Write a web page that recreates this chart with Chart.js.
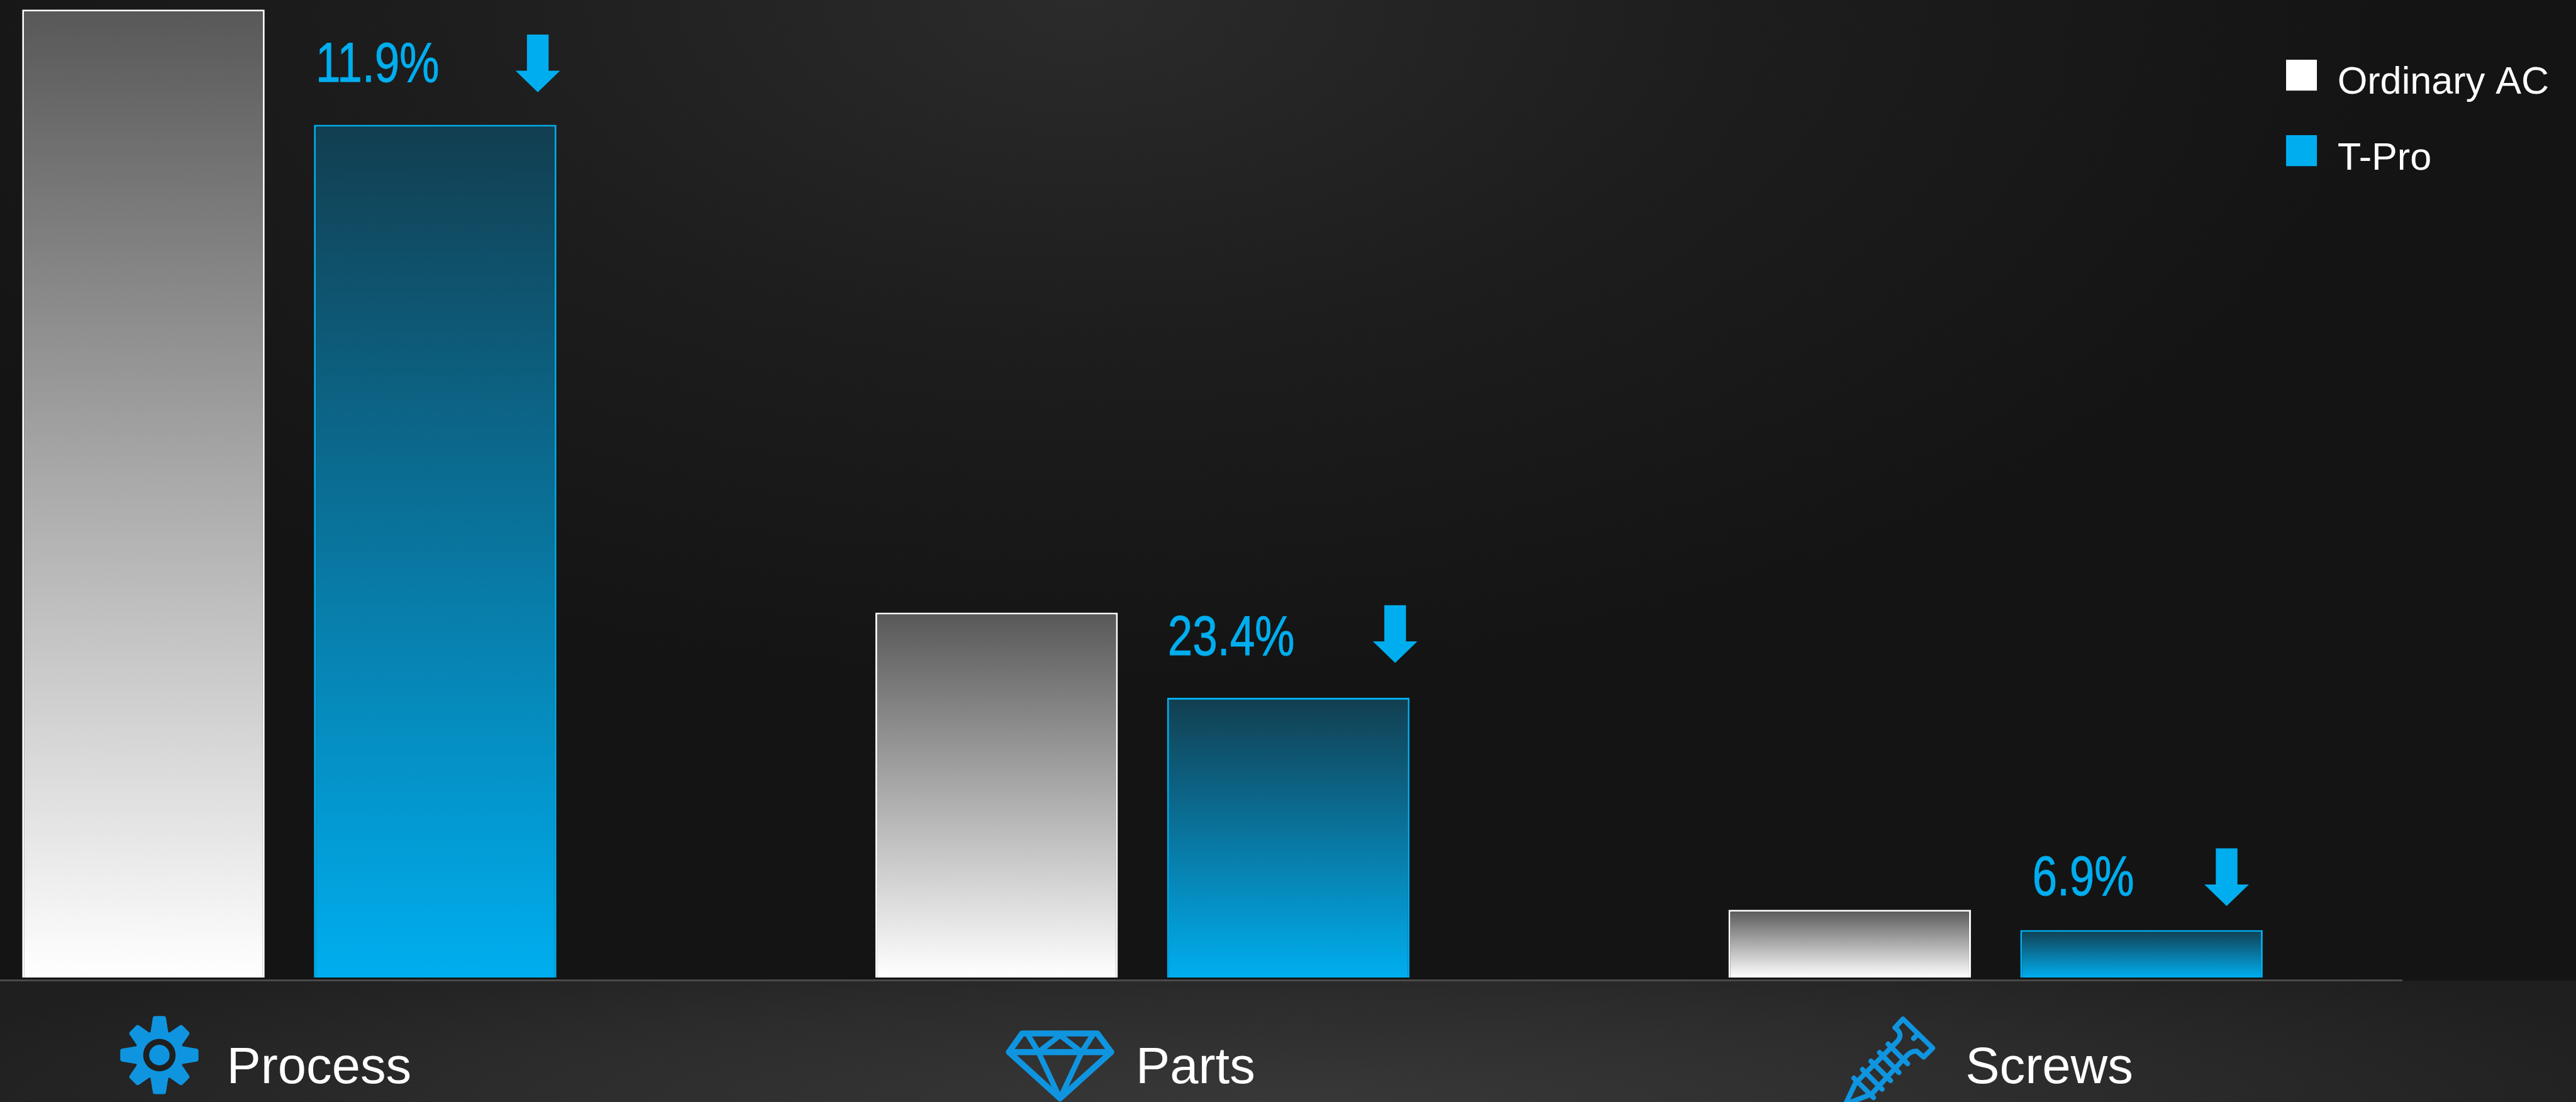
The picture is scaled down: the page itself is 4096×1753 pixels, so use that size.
<!DOCTYPE html>
<html>
<head>
<meta charset="utf-8">
<title>Ordinary AC vs T-Pro</title>
<script src="https://cdn.jsdelivr.net/npm/chart.js@4"></script>
<style>
html, body { margin: 0; padding: 0; width: 4096px; height: 1753px; overflow: hidden; background: #141414; }
#top { position: absolute; left: 0; top: 0; width: 4096px; height: 1560px;
    background: radial-gradient(ellipse 2100px 1100px at 42% 0, #2b2b2b 0%, #1d1d1d 50%, #141414 100%); }
#band { position: absolute; left: 0; top: 1560px; width: 4096px; height: 193px;
    background: radial-gradient(ellipse 2300px 300px at 50% 100%, #383838 0%, #2c2c2c 55%, #1f1f1f 100%); }
#wrap { position: absolute; left: 0; top: 0; width: 4096px; height: 1753px; }
canvas { display: block; }
</style>
</head>
<body>
<div id="top"></div>
<div id="band"></div>
<div id="wrap"><canvas id="chart" width="4096" height="1753"></canvas></div>
<script>
var categories = ['Process', 'Parts', 'Screws'];
var ordinaryAC = [100, 37.7, 7.0];
var tPro = [88.1, 28.9, 4.9];
var reductions = ['11.9%', '23.4%', '6.9%'];

// everything below was measured on the 4283 wide original
var k = 4096 / 4283;
var BLUE = '#00aeef';
var ICON = '#0f95e0';
var FONT = '"Liberation Sans", Arial, sans-serif';

function barGradient(context, topColor, bottomColor) {
    var chart = context.chart;
    if (context.dataIndex === undefined || !chart.scales.y) {
        return bottomColor;
    }
    var y = chart.scales.y;
    var g = chart.ctx.createLinearGradient(0, y.getPixelForValue(context.raw.y), 0, y.getPixelForValue(0));
    g.addColorStop(0, topColor);
    g.addColorStop(1, bottomColor);
    return g;
}

function toPoints(values) {
    return values.map(function(v, i) {
        return { x: i, y: v };
    });
}

// legend text sits lower than its square in the original, so the square is
// painted in the upper part of a taller transparent swatch
function legendSwatch(color) {
    var c = document.createElement('canvas');
    c.width = 49;
    c.height = 75;
    var g = c.getContext('2d');
    g.fillStyle = color;
    g.fillRect(0, 0, 49, 49);
    return c;
}

function drawGear(ctx, cx, cy) {
    ctx.save();
    ctx.translate(cx, cy);
    ctx.fillStyle = ICON;
    ctx.strokeStyle = ICON;
    ctx.lineJoin = 'round';
    ctx.lineWidth = 8;
    for (var i = 0; i < 8; i++) {
        ctx.save();
        ctx.rotate(i * Math.PI / 4);
        ctx.beginPath();
        ctx.moveTo(-11, -36);
        ctx.lineTo(-7, -(i % 2 ? 58 : 61));
        ctx.lineTo(7, -(i % 2 ? 58 : 61));
        ctx.lineTo(11, -36);
        ctx.closePath();
        ctx.fill();
        ctx.stroke();
        ctx.restore();
    }
    ctx.beginPath();
    ctx.arc(0, 0, 41, 0, Math.PI * 2);
    ctx.fill();
    ctx.fillStyle = '#1f1f1f';
    ctx.beginPath();
    ctx.arc(0, 0, 27, 0, Math.PI * 2);
    ctx.fill();
    ctx.fillStyle = ICON;
    ctx.beginPath();
    ctx.arc(0, 0, 17, 0, Math.PI * 2);
    ctx.fill();
    ctx.restore();
}

function polyline(ctx, pts, closed) {
    ctx.beginPath();
    ctx.moveTo(pts[0][0], pts[0][1]);
    for (var i = 1; i < pts.length; i++) {
        ctx.lineTo(pts[i][0], pts[i][1]);
    }
    if (closed) {
        ctx.closePath();
    }
    ctx.stroke();
}

function drawDiamond(ctx, cx, cy) {
    ctx.save();
    ctx.translate(cx, cy);
    ctx.strokeStyle = ICON;
    ctx.lineWidth = 10;
    ctx.lineJoin = 'round';
    polyline(ctx, [[-63, -43], [62, -43], [85, -12], [0, 65], [-85, -12]], true);
    polyline(ctx, [[-85, -12], [85, -12]]);
    ctx.lineWidth = 9;
    polyline(ctx, [[-53, -40], [-36, -12], [0, -40], [36, -12], [54, -40]]);
    polyline(ctx, [[-36, -12], [0, 65], [36, -12]]);
    ctx.restore();
}

function drawScrew(ctx, x0, y0) {
    // path in crop pixels of the 3x zoom, so divide by 3
    ctx.save();
    ctx.translate(x0, y0);
    ctx.scale(1 / 3, 1 / 3);
    ctx.strokeStyle = ICON;
    ctx.lineWidth = 25;
    ctx.lineJoin = 'round';
    ctx.lineCap = 'round';
    ctx.beginPath();
    ctx.moveTo(135, 365);
    ctx.lineTo(345, 155);
    ctx.quadraticCurveTo(375, 120, 332, 88);
    ctx.lineTo(372, 45);
    ctx.lineTo(520, 190);
    ctx.lineTo(475, 235);
    ctx.lineTo(440, 205);
    ctx.quadraticCurveTo(405, 205, 380, 240);
    ctx.lineTo(215, 420);
    ctx.lineTo(85, 470);
    ctx.lineTo(135, 365);
    ctx.stroke();
    var threads = [[298, 170, 395, 268], [255, 212, 352, 312], [212, 255, 310, 352], [170, 297, 268, 395], [127, 340, 225, 437], [425, 142, 447, 120]];
    for (var i = 0; i < threads.length; i++) {
        polyline(ctx, [[threads[i][0], threads[i][1]], [threads[i][2], threads[i][3]]]);
    }
    ctx.restore();
}

function drawArrow(ctx, cx, top, tip, shaft, head) {
    var neck = tip - 36;
    ctx.beginPath();
    ctx.moveTo(cx - shaft, top);
    ctx.lineTo(cx + shaft, top);
    ctx.lineTo(cx + shaft, neck);
    ctx.lineTo(cx + head, neck);
    ctx.lineTo(cx, tip);
    ctx.lineTo(cx - head, neck);
    ctx.lineTo(cx - shaft, neck);
    ctx.closePath();
    ctx.fill();
}

var annotations = {
    id: 'annotations',
    afterDraw: function(chart) {
        var ctx = chart.ctx;
        var meta = chart.getDatasetMeta(1);
        var xs = chart.scales.x;
        // text left from bar left, baseline above bar top, arrow centre from bar right, tip above bar top
        var textDx = [3, 1, 20];
        var textDy = [72, 71, 58];
        var arrowDx = [31, 24, 60];
        var arrowDy = [54, 58, 40];
        ctx.save();
        ctx.scale(k, k);
        ctx.fillStyle = BLUE;
        ctx.strokeStyle = BLUE;
        reductions.forEach(function(r, i) {
            var bar = meta.data[i];
            var left = (bar.x - bar.width / 2) / k;
            var right = (bar.x + bar.width / 2) / k;
            var top = bar.y / k;
            ctx.save();
            ctx.translate(left + textDx[i], top - textDy[i]);
            ctx.scale(0.8, 1);
            ctx.font = '93px ' + FONT;
            ctx.textAlign = 'left';
            ctx.textBaseline = 'alphabetic';
            ctx.lineWidth = 1;
            ctx.fillText(r, 0, 0);
            ctx.strokeText(r, 0, 0);
            ctx.restore();
            var tip = top - arrowDy[i];
            drawArrow(ctx, right - arrowDx[i], tip - 96, tip, 18, 37);
        });

        // category labels with their icons, hung off the x scale
        var labelDx = [-104, -11, -50];
        ctx.fillStyle = '#ffffff';
        ctx.font = '85px ' + FONT;
        ctx.textAlign = 'left';
        ctx.textBaseline = 'alphabetic';
        categories.forEach(function(c, i) {
            ctx.fillText(c, xs.getPixelForValue(i) / k + labelDx[i], 1802);
        });
        drawGear(ctx, xs.getPixelForValue(0) / k - 216, 1755);
        drawDiamond(ctx, xs.getPixelForValue(1) / k - 137, 1762);
        drawScrew(ctx, xs.getPixelForValue(2) / k - 278, 1680);
        ctx.restore();
    }
};

// chartArea legend has no offset option, so it gets moved into the top right corner here
var legendPadding = 59;
var legendCorner = {
    id: 'legendCorner',
    afterLayout: function(chart) {
        var l = chart.legend;
        l.left = 3801 * k - legendPadding - 2;
        l.right = l.left + 520 * k;
        l.top = 102 - legendPadding;
        l.bottom = l.top + l.height;
    }
};

new Chart(document.getElementById('chart'), {
    type: 'bar',
    data: {
        datasets: [{
            label: 'Ordinary AC',
            data: toPoints(ordinaryAC),
            backgroundColor: function(c) { return barGradient(c, '#585858', '#ffffff'); },
            borderColor: '#ffffff',
            borderWidth: 3
        }, {
            label: 'T-Pro',
            data: toPoints(tPro),
            backgroundColor: function(c) { return barGradient(c, '#123e50', BLUE); },
            borderColor: BLUE,
            borderWidth: 3
        }]
    },
    options: {
        responsive: false,
        animation: false,
        categoryPercentage: 0.684,
        barPercentage: 0.831,
        layout: { padding: { left: 0, top: 0, right: (4283 - 3994) * k, bottom: (1833 - 1631) * k } },
        scales: {
            x: {
                type: 'linear',
                offset: false,
                min: -481 / 1418.5,
                max: (3994 - 481) / 1418.5,
                afterBuildTicks: function(scale) {
                    scale.ticks = categories.map(function(c, i) {
                        return { value: i, label: c };
                    });
                },
                afterFit: function(scale) {
                    scale.height = 0;
                },
                grid: { display: false },
                ticks: { display: false },
                border: { display: true, color: '#4a4a4a', width: 3 }
            },
            y: {
                display: false,
                min: -0.31,
                max: 100.99
            }
        },
        plugins: {
            tooltip: { enabled: false },
            legend: {
                position: 'chartArea',
                align: 'start',
                padding: 0,
                labels: {
                    color: '#ffffff',
                    boxWidth: 49,
                    boxHeight: 49,
                    padding: legendPadding,
                    usePointStyle: true,
                    pointStyleWidth: 53,
                    font: { family: FONT, size: 64 * k },
                    generateLabels: function() {
                        return [
                            { text: 'Ordinary AC', pointStyle: legendSwatch('#ffffff'), fontColor: '#ffffff', datasetIndex: 0 },
                            { text: 'T-Pro', pointStyle: legendSwatch(BLUE), fontColor: '#ffffff', datasetIndex: 1 }
                        ];
                    }
                }
            }
        }
    },
    plugins: [legendCorner, annotations]
});
</script>
</body>
</html>
